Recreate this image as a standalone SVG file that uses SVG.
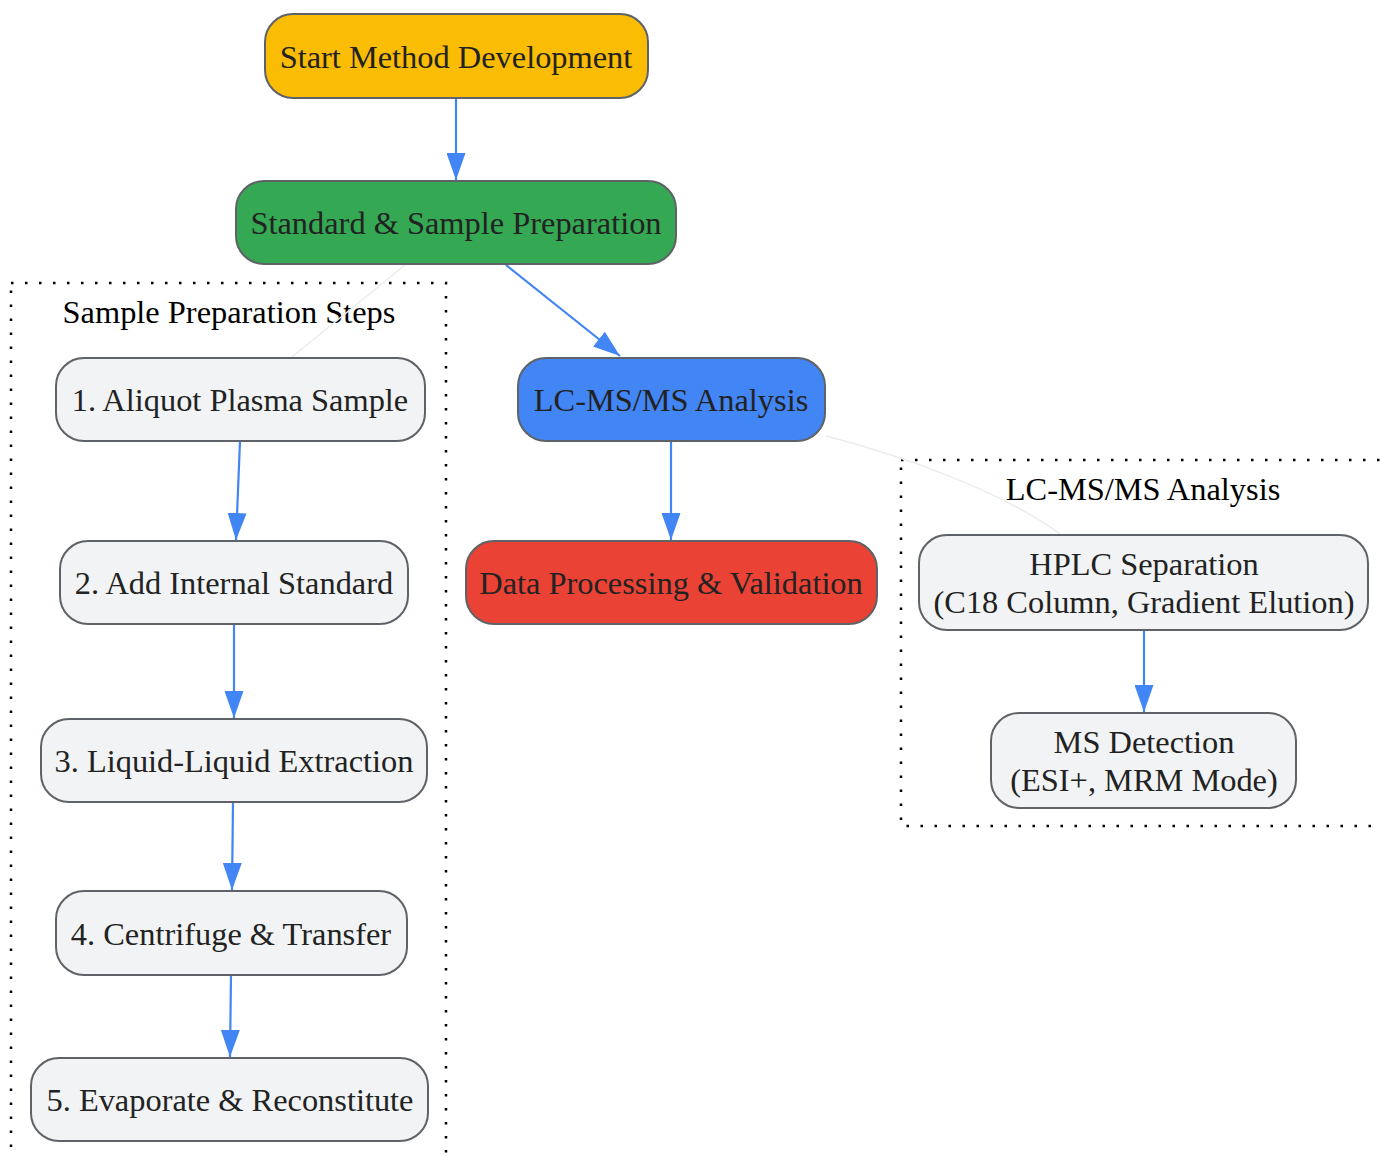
<svg xmlns="http://www.w3.org/2000/svg" width="1381" height="1157" viewBox="0 0 1381 1157">
<defs>
<marker id="arr" viewBox="0 0 27 19" refX="27" refY="9.5" markerWidth="27" markerHeight="19" markerUnits="userSpaceOnUse" orient="auto">
<path d="M0,0 L27,9.5 L0,19 Z" fill="#4285F4"/>
</marker>
<style>
.node rect{stroke:#5f6368;stroke-width:2}
.t{font-family:"Liberation Serif","Times New Roman",serif;font-size:32.4px;fill:#222;text-anchor:middle}
.ct{font-family:"Liberation Serif","Times New Roman",serif;font-size:32.4px;fill:#000;text-anchor:middle}
.grey{fill:#F1F3F4}
.edge{stroke:#4285F4;stroke-width:2.2;fill:none;marker-end:url(#arr)}
.faint{stroke:#ececec;stroke-width:1.6;fill:none}
.cluster{fill:none;stroke:#000;stroke-width:2.5;stroke-dasharray:2.5 11.5}
</style>
</defs>
<rect width="1381" height="1157" fill="#fff"/>

<g id="cluster-sample-prep">
<rect class="cluster" x="11" y="283" width="435" height="900"/>
<text class="ct" x="229" y="323">Sample Preparation Steps</text>
</g>
<g id="cluster-lcms">
<rect class="cluster" x="901" y="460" width="500" height="366"/>
<text class="ct" x="1143" y="500">LC-MS/MS Analysis</text>
</g>

<g id="connectors">
<path class="faint" d="M405,265 L292,357"/>
<path class="faint" d="M826,436 C900,455 1000,490 1060,534"/>
<path class="edge" d="M456,98 L456,180"/>
<path class="edge" d="M506,265 L620,356"/>
<path class="edge" d="M671,441 L671,540"/>
<path class="edge" d="M240,441 L236,540"/>
<path class="edge" d="M234,624 L234,718"/>
<path class="edge" d="M233,802 L232,890"/>
<path class="edge" d="M231,975 L230,1057"/>
<path class="edge" d="M1144,630 L1144,712"/>
</g>

<g id="start" class="node">
<rect x="265" y="14" width="383" height="84" rx="28" fill="#FBBC04"/>
<text class="t" x="456" y="68">Start Method Development</text>
</g>
<g id="prep" class="node">
<rect x="236" y="181" width="440" height="83" rx="28" fill="#34A853"/>
<text class="t" x="456" y="234">Standard &amp; Sample Preparation</text>
</g>
<g id="lcms" class="node">
<rect x="518" y="358" width="307" height="83" rx="28" fill="#4285F4"/>
<text class="t" x="671" y="411">LC-MS/MS Analysis</text>
</g>
<g id="data" class="node">
<rect x="466" y="541" width="411" height="83" rx="28" fill="#EA4335"/>
<text class="t" x="671" y="594">Data Processing &amp; Validation</text>
</g>
<g id="step1" class="node">
<rect class="grey" x="56" y="358" width="369" height="83" rx="28"/>
<text class="t" x="240" y="411">1. Aliquot Plasma Sample</text>
</g>
<g id="step2" class="node">
<rect class="grey" x="60" y="541" width="348" height="83" rx="28"/>
<text class="t" x="234" y="594">2. Add Internal Standard</text>
</g>
<g id="step3" class="node">
<rect class="grey" x="41" y="719" width="386" height="83" rx="28"/>
<text class="t" x="234" y="772">3. Liquid-Liquid Extraction</text>
</g>
<g id="step4" class="node">
<rect class="grey" x="56" y="891" width="351" height="84" rx="28"/>
<text class="t" x="231" y="945">4. Centrifuge &amp; Transfer</text>
</g>
<g id="step5" class="node">
<rect class="grey" x="31" y="1058" width="397" height="83" rx="28"/>
<text class="t" x="230" y="1111">5. Evaporate &amp; Reconstitute</text>
</g>
<g id="hplc" class="node">
<rect class="grey" x="919" y="535" width="449" height="95" rx="28"/>
<text class="t" x="1144" y="575">HPLC Separation</text>
<text class="t" x="1144" y="613">(C18 Column, Gradient Elution)</text>
</g>
<g id="ms" class="node">
<rect class="grey" x="991" y="713" width="305" height="95" rx="28"/>
<text class="t" x="1144" y="753">MS Detection</text>
<text class="t" x="1144" y="791">(ESI+, MRM Mode)</text>
</g>
</svg>
